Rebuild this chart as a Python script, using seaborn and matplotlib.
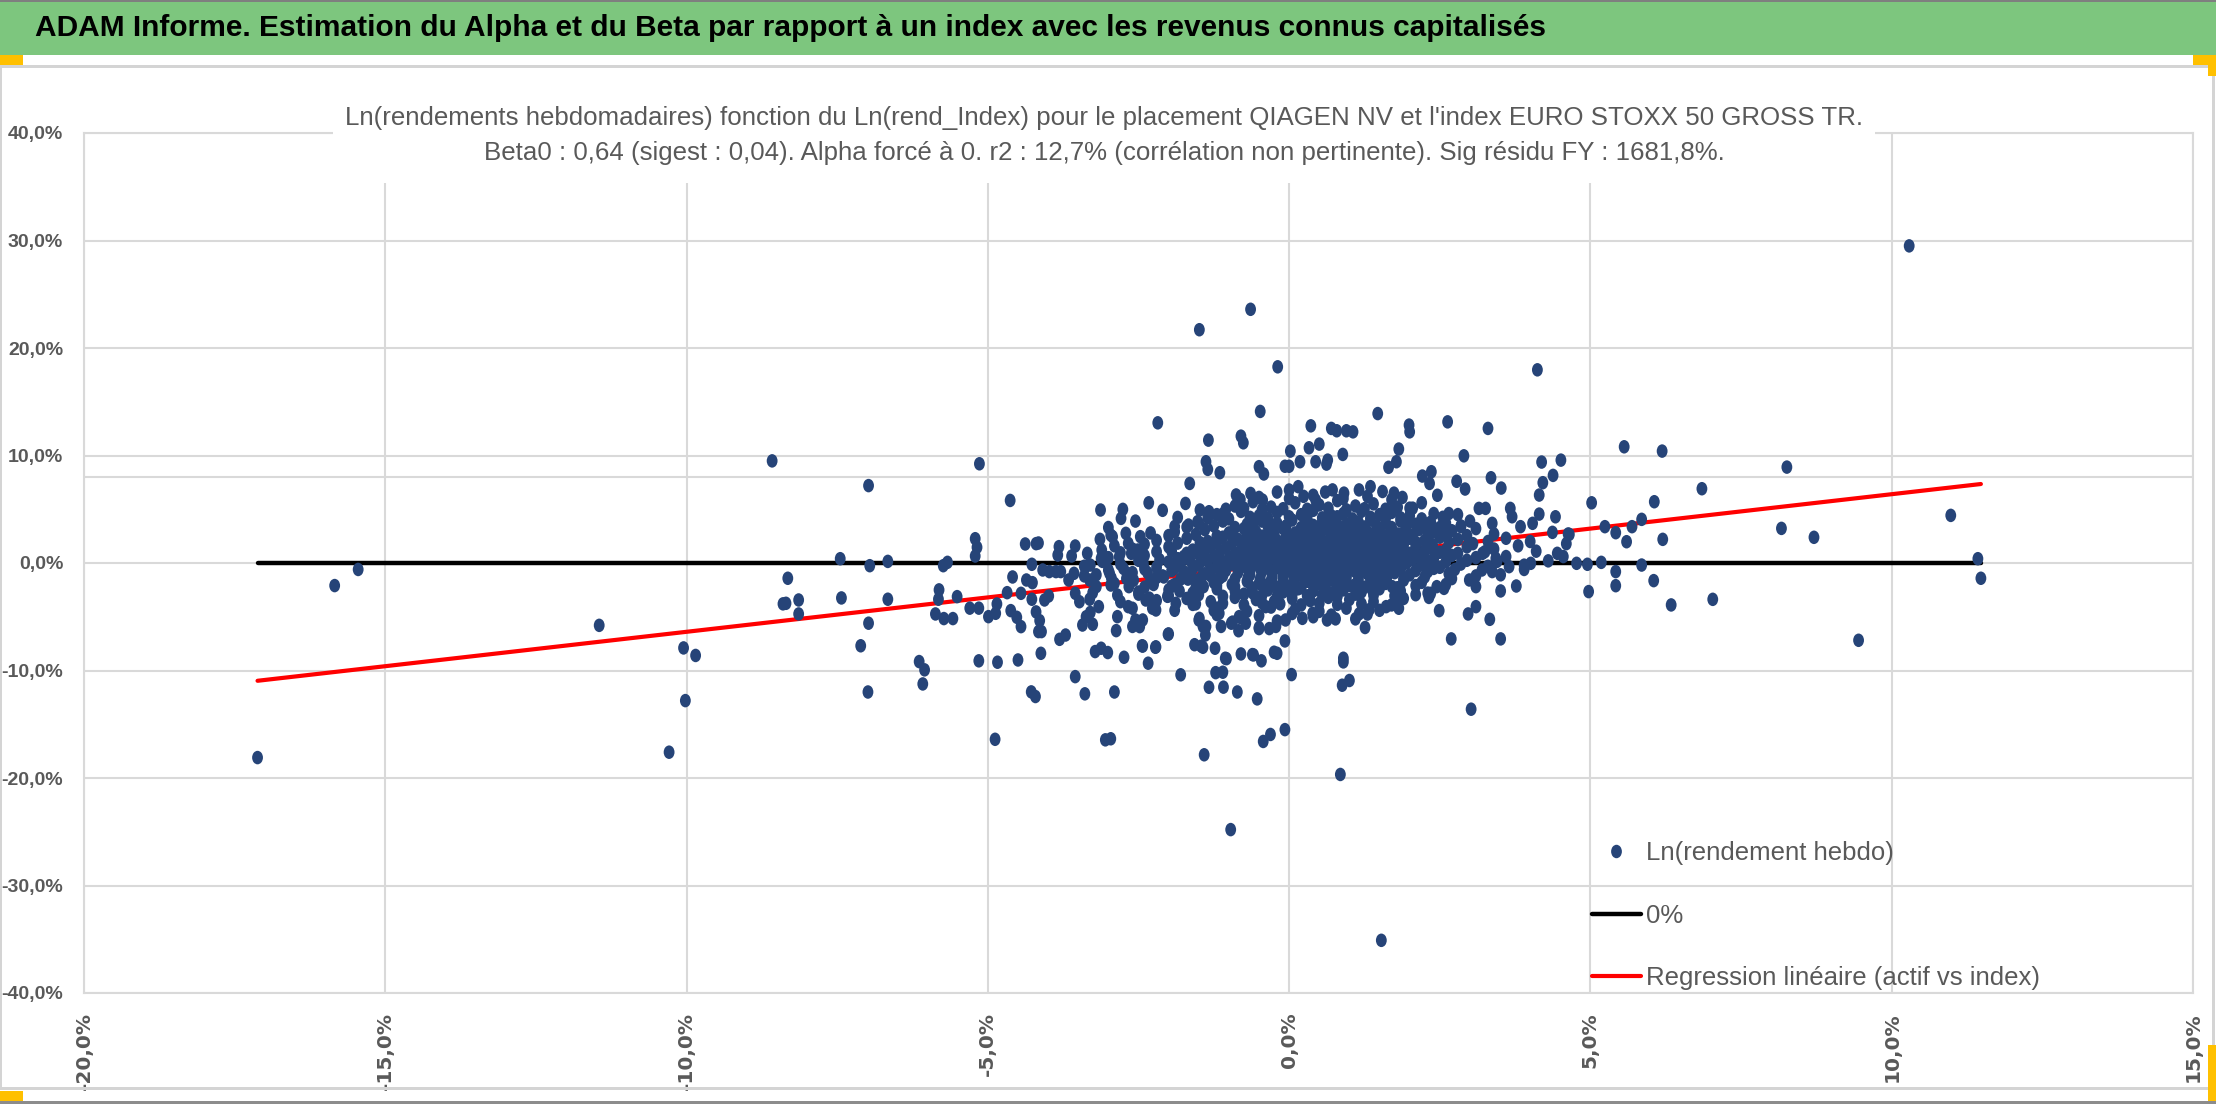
import matplotlib
matplotlib.use("Agg")
import pandas as pd
import matplotlib.pyplot as plt
import seaborn as sns
from matplotlib.lines import Line2D
from matplotlib.patches import Rectangle
from matplotlib.path import Path
from matplotlib.markers import MarkerStyle
from matplotlib.transforms import Affine2D

# --- Donnees (en %) : (rend. index, rend. placement) ---
# points isoles, loin du nuage
far_points = [
    (-17.12, -18.1), (-15.84, -2.1), (-15.45, -0.6), (-11.45, -5.8),
    (-10.05, -7.9), (-9.85, -8.6), (-10.02, -12.8), (-10.29, -17.6),
    (-8.58, 9.5), (-8.4, -3.8), (-8.32, -1.42), (-8.35, -3.75),
    (-8.14, -3.44), (-8.14, -4.74), (-7.45, 0.4), (-7.43, -3.25),
    (-6.98, 7.2), (-6.96, -0.25), (-6.98, -5.6), (-7.11, -7.7), (-6.99, -12.0),
    (-6.66, 0.15), (-6.66, -3.37), (-6.14, -9.17), (-6.05, -9.94), (-6.08, -11.25),
    (-5.87, -4.74), (-5.81, -2.5), (-5.82, -3.37), (-5.73, -5.17), (-5.58, -5.17),
    (-5.74, -0.25), (-5.67, 0.06), (-5.51, -3.13), (-5.3, -4.2), (-5.15, -4.2),
    (-5.21, 2.26), (-5.18, 1.46), (-5.21, 0.65), (-5.14, 9.23), (-5.15, -9.1),
    (-4.99, -4.99), (-4.87, -4.68), (-4.85, -3.81), (-4.88, -16.4), (-4.84, -9.23),
    (-4.63, 5.82), (-4.59, -1.3), (-4.68, -2.76), (-4.62, -4.43), (-4.52, -5.05),
    (-4.45, -5.92), (-4.5, -9.02), (-4.45, -2.82), (-4.38, 1.77), (-4.2, 1.8),
    (-4.16, 1.86), (-4.27, -0.12), (-4.36, -1.58), (-4.26, -1.83), (-4.27, -3.37),
    (-4.2, -4.55), (-4.14, -5.36), (-4.16, -6.38), (-4.11, -6.38), (-4.12, -8.4),
    (-4.28, -11.99), (-4.21, -12.42),
    (10.29, 29.5), (5.56, 10.81), (6.19, 10.41), (8.26, 8.92), (6.85, 6.91),
    (6.06, 5.7), (5.85, 4.06), (5.24, 3.38), (5.69, 3.38), (5.42, 2.82),
    (4.63, 2.7), (5.6, 1.98), (6.2, 2.2), (8.17, 3.22), (8.71, 2.39),
    (10.98, 4.43), (11.43, 0.4), (11.48, -1.42), (9.45, -7.19), (5.18, 0.06),
    (5.85, -0.19), (5.42, -0.8), (5.42, -2.11), (6.05, -1.64), (4.97, -2.66),
    (6.34, -3.9), (7.03, -3.38), (4.95, -0.12), (4.77, -0.03), (5.02, 5.6),
    (4.51, 9.57), (4.19, 9.39), (4.38, 8.15), (4.21, 7.47), (4.15, 6.32),
    (4.12, 17.97),
    (-0.64, 23.6), (-1.49, 21.7), (-0.19, 18.25), (-0.48, 14.1), (1.47, 13.9),
    (-2.18, 13.04), (2.63, 13.13), (3.3, 12.52), (0.36, 12.76), (0.7, 12.52),
    (0.79, 12.3), (0.95, 12.3), (1.06, 12.2), (1.99, 12.83), (2.0, 12.2),
    (-1.34, 11.43), (-0.8, 11.8), (-0.76, 11.18), (0.02, 10.41), (0.33, 10.72),
    (0.5, 11.06), (0.89, 10.1), (1.82, 10.6), (2.9, 9.97),
    (1.53, -35.1), (-0.97, -24.8), (0.85, -19.67), (-1.41, -17.84),
    (-3.05, -16.45), (-2.96, -16.35), (-0.43, -16.6), (-0.31, -15.95), (-0.07, -15.5),
    (3.02, -13.6), (-0.53, -12.64), (-2.9, -12.0), (-3.39, -12.17), (-1.33, -11.56),
    (-1.09, -11.55), (-0.86, -12.0), (0.88, -11.37), (1.0, -10.93), (-3.55, -10.57),
    (-1.8, -10.4), (-1.1, -10.16), (-1.22, -10.2), (0.04, -10.38),
]

# points autour du nuage central
mid_points = [
    (-4.09, -0.65), (-4.06, -3.44), (-3.99, -3.07), (-3.98, -0.8), (-3.87, -0.8),
    (-3.82, 1.52), (-3.84, 0.74), (-3.79, -0.8), (-3.81, -7.1), (-3.71, -6.7),
    (-3.66, -1.58), (-3.61, 0.65), (-3.55, 1.58), (-3.57, -0.96), (-3.55, -2.82),
    (-3.48, -3.6), (-3.43, -5.77), (-3.37, -5.0), (-3.26, -5.7), (-3.22, -8.24),
    (-3.12, -7.93), (-3.01, -8.33), (-3.13, 4.93), (-3.14, 2.2), (-3.11, 1.21),
    (-3.12, 0.43), (-3.3, -0.19), (-3.38, -0.34), (-3.31, -1.58), (-3.26, -2.76),
    (-3.31, -3.37), (-3.16, -4.06), (-2.96, 2.6), (-2.93, 2.45), (-2.79, 4.15),
    (-2.76, 4.99), (-2.98, -0.96), (-2.96, -2.05), (-2.85, -2.98), (-2.85, -4.99),
    (-2.87, -6.29), (-2.74, -8.77), (-2.71, 2.76), (-2.67, 1.83), (-2.82, 0.59),
    (-2.69, -0.96), (-2.66, -2.2), (-2.67, -4.06), (-2.55, -5.3), (-2.48, -5.92),
    (-2.43, -5.3), (-2.47, 2.45), (-2.51, 1.21), (-2.33, 5.6), (-2.43, -7.73),
    (-2.34, -9.32), (-2.21, -7.8), (-2.27, -4.2), (-2.32, -3.27), (-2.01, -6.63),
    (-1.85, 4.24), (-1.72, 5.54), (-1.65, 7.4), (-1.67, 3.53), (-1.52, 3.84),
    (-1.48, 4.93), (-1.33, 4.77), (-1.1, 4.55), (-1.38, 9.42), (-1.35, 8.71),
    (-1.15, 8.4), (-0.5, 8.96), (-0.42, 8.28), (-0.88, 6.33), (-0.81, 5.91),
    (-0.64, 6.47), (-0.44, 5.85), (-1.46, -7.73), (-1.23, -7.93), (-1.06, -8.86),
    (-0.8, -8.46), (-0.59, -8.55), (-0.46, -9.1), (-0.2, -8.4), (-1.43, -5.9),
    (-1.39, -6.7), (-1.13, -5.9), (-0.96, -5.6), (-0.84, -6.3), (-0.5, -6.1),
    (-0.33, -6.1), (0.18, 9.42), (0.44, 9.42), (0.64, 9.57), (0.62, 9.2),
    (-0.07, 9.0), (0.0, 9.0), (1.78, 9.42), (1.65, 8.9), (2.21, 8.09),
    (2.36, 8.49), (2.33, 7.4), (2.78, 7.6), (2.92, 6.88), (3.35, 7.93),
    (3.52, 6.97), (4.15, 4.55), (4.42, 4.3), (4.65, 2.66), (4.37, 2.85),
    (3.77, -2.14), (3.51, -7.06), (2.69, -7.06), (3.33, -5.24), (3.51, -2.6),
    (2.97, -4.74), (3.1, -4.06), (2.49, -4.43), (2.32, -3.2), (1.82, -4.21),
    (1.61, -4.06), (1.26, -6.0), (0.9, -8.86), (0.9, -9.2), (0.77, -5.2), (0.63, -5.3),
    (-0.07, -7.25), (-0.25, -8.3), (-0.5, -6.0), (-0.61, -8.52), (-1.04, -8.9),
    (-1.43, -7.84), (-1.57, -7.6), (-2.0, -6.6), (-2.22, -7.84), (-2.44, -7.7),
    (0.0, 6.79), (0.15, 7.1), (0.24, 6.2), (0.44, 5.86), (0.72, 6.8),
    (0.91, 6.5), (1.16, 6.8), (1.35, 7.1), (1.55, 6.65), (1.74, 6.5),
    (1.88, 6.1), (2.05, 5.1), (2.46, 6.3), (2.65, 4.6), (2.85, 3.38),
    (3.15, 5.08), (3.26, 5.08), (3.37, 3.69), (3.67, 5.08), (3.7, 4.3),
    (3.84, 3.38), (4.04, 3.69), (3.43, 0.43), (3.65, -0.34), (4.01, -0.03),
    (3.21, 0.9), (2.99, -1.58), (3.1, -2.2), (3.37, -0.8), (3.51, -1.1),
    (2.57, -2.36), (2.35, -2.82), (1.71, -2.2), (1.82, -3.2), (1.38, -2.51),
    (1.16, -4.74), (1.33, -4.34), (0.72, -2.82), (0.39, -4.68), (0.22, -5.15),
    (-0.06, -5.3), (-0.22, -5.9), (-0.39, -4.06), (-0.72, -5.6), (-0.83, -4.99),
    (-0.94, -5.5), (-1.16, -4.68), (-1.38, -5.9), (-1.49, -5.15), (-1.88, -3.75),
    (-2.21, -4.37), (-2.38, -3.44), (-2.6, -4.21), (3.8, 1.6), (4.1, 1.1),
    (3.6, 2.3), (4.3, 0.2), (3.9, -0.6), (4.6, 1.8), (3.4, 2.7), (4.0, 2.0),
    (4.45, 0.9), (4.55, 0.6),
    # queue gauche, le long de la droite de regression
    (-3.4, -1.2), (-3.35, 0.9), (-3.2, -2.2), (-3.05, 0.2), (-2.95, -1.4),
    (-2.9, 1.6), (-2.8, -3.6), (-2.75, -0.5), (-2.62, 0.9), (-2.58, -1.6),
    (-2.5, -2.9), (-2.42, 0.0), (-2.35, -0.9), (-2.3, 2.8), (-2.25, -2.0),
    (-2.15, 0.3), (-2.08, -1.3), (-2.02, -3.1), (-1.95, 1.1), (-1.9, -0.5),
    (-1.82, -2.6), (-1.75, 0.6), (-1.68, -1.5), (-1.6, -0.3), (-1.55, -3.8),
    (-1.48, 1.9), (-1.42, -2.2), (-1.36, 0.2), (-1.3, -1.2), (-1.25, -4.4),
    (-3.0, 3.3), (-2.55, 3.9), (-2.1, 4.9), (-1.9, 3.4), (-2.6, -5.9), (-3.3, -4.6),
]

# coeur du nuage (zone quasi pleine)
core_points = [
    (-0.9, 5.3), (-0.6, 5.7), (-0.3, 5.2), (0.1, 5.6), (0.5, 5.4),
    (0.8, 5.8), (1.1, 5.3), (1.4, 5.5), (1.8, 5.2), (2.2, 5.6),
    (-0.5, 6.1), (0.0, 6.0), (0.4, 6.3), (0.9, 6.0), (1.3, 6.2), (1.7, 5.9),
    (-0.2, 6.6), (0.6, 6.6),
    (-1.05, 5.0), (-0.75, 5.1), (-0.45, 4.95), (-0.1, 5.05), (0.3, 5.0),
    (0.65, 5.1), (0.95, 4.95), (1.25, 5.05), (1.6, 5.0), (2.0, 5.1),
    (-1.2, 4.5), (-0.8, 4.8), (-0.5, 4.4), (-0.2, 4.7), (0.2, 4.5), (0.4, 4.9),
    (0.7, 4.4), (0.9, 4.6), (1.2, 4.8), (1.5, 4.5), (1.7, 4.7), (2.0, 4.4),
    (2.4, 4.6), (2.8, 4.5),
    (-1.35, 4.2), (-1.0, 4.1), (-0.65, 4.25), (-0.35, 4.15), (0.0, 4.3),
    (0.3, 4.1), (0.55, 4.2), (0.8, 4.3), (1.05, 4.1), (1.35, 4.25),
    (1.6, 4.15), (1.85, 4.2), (2.2, 4.1), (2.55, 4.25),
    (-1.5, 3.7), (-1.1, 3.9), (-0.7, 3.6), (-0.45, 3.9), (-0.2, 3.7), (0.05, 4.0),
    (0.3, 3.6), (0.55, 3.8), (0.75, 3.9), (0.95, 3.6), (1.15, 3.8), (1.35, 4.0),
    (1.6, 3.7), (1.85, 3.9), (2.1, 3.6), (2.35, 3.8), (2.6, 3.7), (3.0, 3.9),
    (-1.7, 3.35), (-1.25, 3.45), (-0.9, 3.3), (-0.6, 3.5), (-0.35, 3.35),
    (-0.05, 3.45), (0.2, 3.3), (0.4, 3.5), (0.65, 3.4), (0.85, 3.3),
    (1.05, 3.5), (1.25, 3.35), (1.45, 3.45), (1.7, 3.3), (1.95, 3.5),
    (2.25, 3.4), (2.5, 3.3), (2.85, 3.45),
    (-1.9, 2.9), (-1.4, 3.1), (-1.0, 2.8), (-0.75, 3.2), (-0.55, 2.9), (-0.3, 3.0),
    (-0.1, 3.2), (0.1, 2.8), (0.25, 3.1), (0.45, 2.9), (0.6, 3.2), (0.8, 3.0),
    (0.95, 2.8), (1.1, 3.1), (1.3, 2.9), (1.5, 3.2), (1.7, 3.0), (1.9, 2.8),
    (2.15, 3.1), (2.4, 2.9), (2.7, 3.0), (3.1, 3.2),
    (-2.0, 2.55), (-1.55, 2.65), (-1.2, 2.5), (-0.95, 2.7), (-0.7, 2.6),
    (-0.45, 2.5), (-0.25, 2.7), (0.0, 2.55), (0.18, 2.65), (0.35, 2.5),
    (0.52, 2.7), (0.7, 2.6), (0.88, 2.5), (1.05, 2.7), (1.22, 2.55),
    (1.4, 2.65), (1.6, 2.5), (1.8, 2.7), (2.05, 2.6), (2.3, 2.5),
    (2.6, 2.65), (2.95, 2.55),
    (-2.2, 2.1), (-1.7, 2.3), (-1.35, 2.0), (-1.1, 2.4), (-0.85, 2.2), (-0.6, 2.0),
    (-0.4, 2.3), (-0.2, 2.1), (-0.05, 2.4), (0.1, 2.0), (0.25, 2.2), (0.4, 2.3),
    (0.55, 2.1), (0.7, 2.4), (0.85, 2.0), (1.0, 2.2), (1.15, 2.3), (1.3, 2.1),
    (1.45, 2.4), (1.6, 2.2), (1.8, 2.0), (2.0, 2.3), (2.25, 2.1), (2.5, 2.4),
    (2.8, 2.2), (3.3, 2.0),
    (-2.4, 1.75), (-1.85, 1.85), (-1.45, 1.7), (-1.2, 1.9), (-0.95, 1.8),
    (-0.72, 1.7), (-0.5, 1.9), (-0.32, 1.75), (-0.15, 1.85), (0.0, 1.7),
    (0.15, 1.9), (0.3, 1.8), (0.45, 1.7), (0.62, 1.9), (0.78, 1.75),
    (0.92, 1.85), (1.08, 1.7), (1.22, 1.9), (1.38, 1.8), (1.52, 1.7),
    (1.7, 1.9), (1.9, 1.75), (2.12, 1.85), (2.38, 1.7), (2.65, 1.9), (3.05, 1.8),
    (-2.6, 1.3), (-2.0, 1.5), (-1.6, 1.2), (-1.3, 1.6), (-1.05, 1.4), (-0.8, 1.2),
    (-0.6, 1.5), (-0.42, 1.3), (-0.25, 1.6), (-0.1, 1.4), (0.05, 1.2), (0.2, 1.5),
    (0.35, 1.3), (0.5, 1.6), (0.65, 1.4), (0.8, 1.2), (0.95, 1.5), (1.1, 1.3),
    (1.25, 1.6), (1.4, 1.4), (1.55, 1.2), (1.7, 1.5), (1.9, 1.3), (2.1, 1.6),
    (2.35, 1.4), (2.6, 1.2), (2.95, 1.5), (3.4, 1.3),
    (-2.8, 0.95), (-2.2, 1.05), (-1.7, 0.9), (-1.4, 1.1), (-1.15, 1.0),
    (-0.9, 0.9), (-0.7, 1.1), (-0.52, 0.95), (-0.35, 1.05), (-0.18, 0.9),
    (-0.02, 1.1), (0.12, 1.0), (0.28, 0.9), (0.42, 1.1), (0.58, 0.95),
    (0.72, 1.05), (0.88, 0.9), (1.02, 1.1), (1.18, 1.0), (1.32, 0.9),
    (1.48, 1.1), (1.62, 0.95), (1.8, 1.05), (2.0, 0.9), (2.25, 1.1),
    (2.5, 1.0), (2.8, 0.9), (3.25, 1.05),
    (-3.0, 0.5), (-2.4, 0.7), (-1.85, 0.4), (-1.5, 0.8), (-1.25, 0.6), (-1.0, 0.4),
    (-0.8, 0.7), (-0.6, 0.5), (-0.45, 0.8), (-0.3, 0.6), (-0.15, 0.4), (0.0, 0.7),
    (0.15, 0.5), (0.3, 0.8), (0.45, 0.6), (0.6, 0.4), (0.75, 0.7), (0.9, 0.5),
    (1.05, 0.8), (1.2, 0.6), (1.35, 0.4), (1.5, 0.7), (1.7, 0.5), (1.9, 0.8),
    (2.15, 0.6), (2.4, 0.4), (2.7, 0.7), (3.1, 0.5), (3.6, 0.6),
    (-3.1, 0.15), (-2.5, 0.25), (-2.0, 0.1), (-1.65, 0.3), (-1.35, 0.2),
    (-1.1, 0.1), (-0.88, 0.3), (-0.68, 0.15), (-0.5, 0.25), (-0.35, 0.1),
    (-0.22, 0.3), (-0.08, 0.2), (0.05, 0.1), (0.2, 0.3), (0.35, 0.15),
    (0.5, 0.25), (0.65, 0.1), (0.8, 0.3), (0.95, 0.2), (1.1, 0.1),
    (1.25, 0.3), (1.42, 0.15), (1.6, 0.25), (1.8, 0.1), (2.05, 0.3),
    (2.3, 0.2), (2.6, 0.1), (2.95, 0.25), (3.45, 0.15),
    (-3.4, -0.3), (-2.8, -0.1), (-2.2, -0.4), (-1.8, 0.0), (-1.5, -0.2), (-1.2, -0.4),
    (-0.95, -0.1), (-0.75, -0.3), (-0.55, 0.0), (-0.38, -0.2), (-0.2, -0.4), (-0.05, -0.1),
    (0.1, -0.3), (0.25, 0.0), (0.4, -0.2), (0.55, -0.4), (0.7, -0.1), (0.85, -0.3),
    (1.0, 0.0), (1.15, -0.2), (1.3, -0.4), (1.5, -0.1), (1.7, -0.3), (1.95, 0.0),
    (2.2, -0.2), (2.5, -0.4), (2.85, -0.1), (3.3, -0.3), (3.9, -0.2),
    (-3.0, -0.65), (-2.4, -0.55), (-1.95, -0.7), (-1.6, -0.5), (-1.3, -0.6),
    (-1.05, -0.7), (-0.85, -0.5), (-0.65, -0.65), (-0.48, -0.55), (-0.3, -0.7),
    (-0.15, -0.5), (0.0, -0.6), (0.15, -0.7), (0.3, -0.5), (0.45, -0.65),
    (0.6, -0.55), (0.75, -0.7), (0.9, -0.5), (1.05, -0.6), (1.22, -0.7),
    (1.4, -0.5), (1.6, -0.65), (1.85, -0.55), (2.1, -0.7), (2.4, -0.5),
    (2.75, -0.6), (3.2, -0.65),
    (-3.2, -1.1), (-2.6, -0.9), (-2.1, -1.2), (-1.75, -0.8), (-1.4, -1.0), (-1.1, -1.2),
    (-0.85, -0.9), (-0.65, -1.1), (-0.45, -0.8), (-0.28, -1.0), (-0.1, -1.2), (0.05, -0.9),
    (0.2, -1.1), (0.35, -0.8), (0.5, -1.0), (0.65, -1.2), (0.8, -0.9), (0.95, -1.1),
    (1.1, -0.8), (1.3, -1.0), (1.5, -1.2), (1.75, -0.9), (2.0, -1.1), (2.3, -0.8),
    (2.65, -1.0), (3.1, -1.2),
    (-2.7, -1.45), (-2.2, -1.35), (-1.8, -1.5), (-1.45, -1.3), (-1.15, -1.4),
    (-0.9, -1.5), (-0.68, -1.3), (-0.48, -1.45), (-0.28, -1.35), (-0.1, -1.5),
    (0.08, -1.3), (0.25, -1.4), (0.42, -1.5), (0.6, -1.3), (0.78, -1.45),
    (0.95, -1.35), (1.15, -1.5), (1.38, -1.3), (1.62, -1.4), (1.9, -1.5),
    (2.25, -1.3), (2.7, -1.45),
    (-2.9, -1.9), (-2.3, -1.7), (-1.9, -2.0), (-1.55, -1.6), (-1.25, -1.8), (-0.95, -2.0),
    (-0.7, -1.7), (-0.5, -1.9), (-0.3, -1.6), (-0.1, -1.8), (0.1, -2.0), (0.3, -1.7),
    (0.5, -1.9), (0.7, -1.6), (0.9, -1.8), (1.1, -2.0), (1.35, -1.7), (1.6, -1.9),
    (1.9, -1.6), (2.2, -1.8), (2.6, -2.0),
    (-2.4, -2.25), (-1.95, -2.15), (-1.55, -2.3), (-1.2, -2.1), (-0.9, -2.2),
    (-0.62, -2.3), (-0.4, -2.1), (-0.2, -2.25), (0.0, -2.15), (0.2, -2.3),
    (0.4, -2.1), (0.6, -2.2), (0.8, -2.3), (1.0, -2.1), (1.25, -2.25),
    (1.5, -2.15), (1.8, -2.3), (2.1, -2.1), (2.45, -2.2),
    (-2.5, -2.7), (-2.0, -2.5), (-1.6, -2.8), (-1.2, -2.4), (-0.9, -2.6), (-0.6, -2.8),
    (-0.35, -2.5), (-0.1, -2.7), (0.15, -2.4), (0.4, -2.6), (0.65, -2.8), (0.9, -2.5),
    (1.2, -2.7), (1.5, -2.4), (1.85, -2.6), (2.3, -2.8),
    (-2.0, -3.05), (-1.5, -2.95), (-1.1, -3.1), (-0.75, -2.9), (-0.45, -3.0),
    (-0.2, -3.1), (0.05, -2.9), (0.3, -3.05), (0.55, -2.95), (0.8, -3.1),
    (1.1, -2.9), (1.4, -3.0), (1.75, -3.05), (2.1, -2.95),
    (-2.2, -3.5), (-1.7, -3.3), (-1.3, -3.6), (-0.9, -3.2), (-0.55, -3.4), (-0.25, -3.6),
    (0.05, -3.3), (0.35, -3.5), (0.65, -3.2), (1.0, -3.4), (1.4, -3.6), (1.9, -3.3),
    (-1.6, -3.85), (-1.1, -3.75), (-0.75, -3.9), (-0.45, -3.7), (-0.15, -3.8),
    (0.2, -3.9), (0.5, -3.75), (0.8, -3.85), (1.2, -3.8), (1.7, -3.9),
    (-1.9, -4.4), (-1.2, -4.2), (-0.7, -4.5), (-0.3, -4.1), (0.1, -4.3), (0.5, -4.5),
    (0.95, -4.2), (1.5, -4.4),
    (-1.2, -4.8), (-0.5, -4.9), (0.05, -4.7), (0.7, -4.85), (1.3, -4.75),
    (-1.5, -5.3), (-0.8, -5.1), (-0.2, -5.4), (0.4, -5.0), (1.1, -5.2),
]

beta0 = 0.64  # pente de la regression (alpha force a 0)

y_ticks = [-0.4, -0.3, -0.2, -0.1, 0.0, 0.1, 0.2, 0.3, 0.4]
y_tick_labels = ["-40,0%", "-30,0%", "-20,0%", "-10,0%", "0,0%",
                 "10,0%", "20,0%", "30,0%", "40,0%"]
x_ticks = [-0.2, -0.15, -0.1, -0.05, 0.0, 0.05, 0.1, 0.15]
x_tick_labels = ["-20,0%", "-15,0%", "-10,0%", "-5,0%", "0,0%",
                 "5,0%", "10,0%", "15,0%"]

header = ("ADAM Informe. Estimation du Alpha et du Beta par rapport à un index "
          "avec les revenus connus capitalisés")
title_1 = ("Ln(rendements hebdomadaires) fonction du Ln(rend_Index) pour le placement "
           "QIAGEN NV et l'index EURO STOXX 50 GROSS TR.")
title_2 = ("Beta0 : 0,64 (sigest : 0,04). Alpha forcé à 0. r2 : 12,7% "
           "(corrélation non pertinente). Sig résidu FY : 1681,8%.")
legend_labels = ["Ln(rendement hebdo)", "0%", "Regression linéaire (actif vs index)"]

# --- Style ---
sns.set_theme(style="white")
plt.rcParams['font.family'] = ['Liberation Sans', 'DejaVu Sans']

GRID = "#d9d9d9"
GREY_TXT = "#595959"
BLUE = "#264478"
ORANGE = "#ffc000"

W, H = 2216, 1104
fig = plt.figure(figsize=(W / 100, H / 100), dpi=100)


def px_rect(x0, y0, x1, y1, color, z=1):
    # rectangle en pixels (origine en haut a gauche)
    fig.patches.append(Rectangle((x0 / W, 1 - y1 / H), (x1 - x0) / W, (y1 - y0) / H,
                                 transform=fig.transFigure, facecolor=color,
                                 edgecolor="none", zorder=z))


# bandeau vert + cadre façon capture Excel
px_rect(0, 0, W, 55, "#7dc67e")
px_rect(0, 0, W, 2, "#7f7f7f")
px_rect(0, 65, W, 68, "#d4d4d4")
px_rect(0, 1087, W, 1090, "#d4d4d4")
px_rect(0, 1101, W, H, "#8c8c8c")
px_rect(0, 65, 2, 1090, "#d4d4d4")
px_rect(2212, 65, 2215, 1090, "#d4d4d4")
px_rect(0, 55, 23, 65, ORANGE, 2)
px_rect(2193, 55, W, 65, ORANGE, 2)
px_rect(2208, 55, W, 76, ORANGE, 2)
px_rect(0, 1091, 23, 1101, ORANGE, 2)
px_rect(2208, 1045, W, 1101, ORANGE, 2)

fig.text(35 / W, 1 - 28 / H, header, ha="left", va="center", fontsize=21.5,
         fontweight="bold", color="black", zorder=5)

# --- Zone de tracé ---
ax = fig.add_axes([84 / W, 1 - 993 / H, (2193 - 84) / W, (993 - 133) / H])

pts = far_points + mid_points + core_points
df = pd.DataFrame(pts, columns=["rend_index", "rend_actif"]) / 100

x_lo, x_hi = df["rend_index"].min(), df["rend_index"].max()
lines = pd.DataFrame({"x": [x_lo, x_hi],
                      "zero": [0.0, 0.0],
                      "reg": [beta0 * x_lo, beta0 * x_hi]})

ax.axhline(0.08, color=GRID, lw=1.5, zorder=0.5)
sns.lineplot(data=lines, x="x", y="zero", color="black", lw=3.2, ax=ax, zorder=2)
sns.lineplot(data=lines, x="x", y="reg", color="#ff0000", lw=3.0, ax=ax, zorder=2)

ell = MarkerStyle(Path.unit_circle().transformed(Affine2D().scale(0.8, 1.0)))
sns.scatterplot(data=df, x="rend_index", y="rend_actif", marker=ell, s=95,
                color=BLUE, edgecolor="none", linewidth=0, ax=ax, zorder=3)

ax.set_xlim(-0.2, 0.15)
ax.set_ylim(-0.4, 0.4)
ax.set_xticks(x_ticks)
ax.set_xticklabels(x_tick_labels, rotation=90, fontfamily="DejaVu Sans",
                   fontweight="bold", fontsize=14.5, color=GREY_TXT)
ax.set_yticks(y_ticks)
ax.set_yticklabels(y_tick_labels, fontweight="bold", fontsize=14, color=GREY_TXT)
ax.tick_params(axis="x", length=0, pad=14)
ax.tick_params(axis="y", length=0, pad=15)
ax.set_xlabel("")
ax.set_ylabel("")
ax.grid(True, color=GRID, lw=1.5)
ax.set_axisbelow(True)
for sp in ax.spines.values():
    sp.set_color(GRID)
    sp.set_linewidth(1.5)

# cartouche blanc du titre (masque les grilles comme dans Excel)
px_rect(333, 70, 1875, 183, "white", 1)
fig.text(1104 / W, 1 - 118 / H, title_1, ha="center", va="center",
         fontsize=18.6, color=GREY_TXT, zorder=5)
fig.text(1104 / W, 1 - 153 / H, title_2, ha="center", va="center",
         fontsize=18.6, color=GREY_TXT, zorder=5)

handles = [
    Line2D([], [], ls="none", marker=ell, ms=9.7, mfc=BLUE, mec="none"),
    Line2D([], [], color="black", lw=3.2),
    Line2D([], [], color="#ff0000", lw=3.0),
]
ax.legend(handles, legend_labels, loc="upper left",
          bbox_to_anchor=(1592 / W, 1 - 841 / H), bbox_transform=fig.transFigure,
          frameon=False, fontsize=18.5, labelcolor=GREY_TXT,
          handlelength=1.9, handletextpad=0.2, borderpad=0, borderaxespad=0,
          labelspacing=1.5)

fig.savefig("out.png", dpi=100, facecolor="white")
